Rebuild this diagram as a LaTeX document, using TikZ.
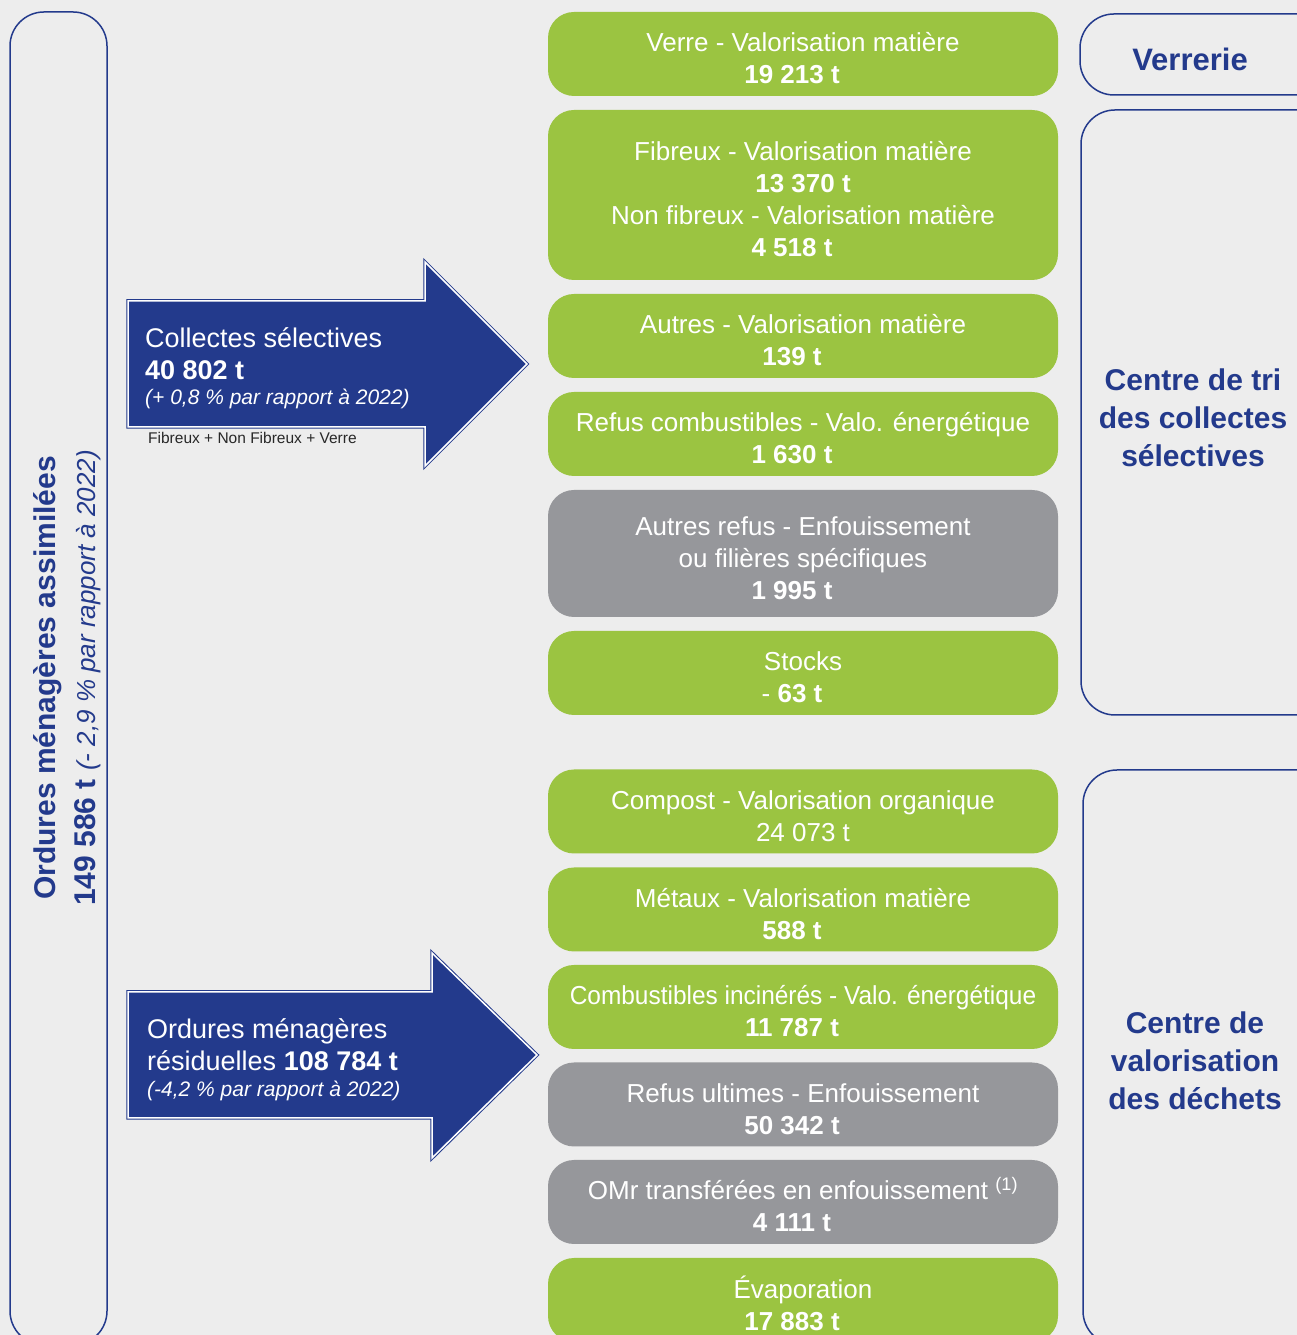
\documentclass[tikz,border=0pt]{standalone}
\usepackage{fontspec}
\usepackage{graphicx}
\setmainfont{Liberation Sans}
\newcommand{\tonnes}[1]{#1\hspace*{22pt}}
\begin{document}
\begin{tikzpicture}[x=1pt,y=1pt]
\definecolor{fondColor}{RGB}{237,237,237}
\definecolor{vertColor}{RGB}{155,196,65}
\definecolor{grisColor}{RGB}{150,151,155}
\definecolor{bleuColor}{RGB}{35,58,140}
\definecolor{noteColor}{RGB}{40,40,40}
\tikzset{
  flux/.style={rounded corners=26pt, minimum width=510pt, minimum height=84pt, inner sep=0pt,
    text=white, align=center, font=\fontsize{26}{32}\selectfont, text height=60pt, text depth=0pt},
  valo/.style={flux, fill=vertColor},
  refus/.style={flux, fill=grisColor},
  cadre/.style={draw=bleuColor, line width=1.5pt, rounded corners=34pt},
  centre/.style={text=bleuColor, align=center, anchor=base, inner sep=0pt, font=\bfseries\fontsize{30}{38}\selectfont},
  fleche/.style={draw=bleuColor, fill=bleuColor, line width=1pt, double=white, double distance=1.5pt, line join=miter},
  legende/.style={text=white, align=left, anchor=base west, inner sep=0pt, font=\fontsize{27}{32}\selectfont}
}
\path[use as bounding box,fill=fondColor] (0,0) rectangle (1297,1335);
\begin{scope}
\path[clip] (0,0) rectangle (1297,1335);

\path[cadre] (10,-10) rectangle (107,1323);
\path[cadre] (1080,1240) rectangle (1340,1321);
\path[cadre] (1081,620) rectangle (1340,1225);
\path[cadre] (1083,-10) rectangle (1340,565);

\path[fleche] (128,1034) -- (425,1034) -- (425,1073) -- (527,971) -- (425,869) -- (425,908) -- (128,908) -- cycle;
\path[fleche] (128,343) -- (432,343) -- (432,382) -- (537,280) -- (432,177) -- (432,217) -- (128,217) -- cycle;

\node[valo] (verre) at (803,1281) {Verre - Valorisation matière\\\tonnes{\textbf{19 213 t}}};
\node[valo, minimum height=170pt, text height=124pt] (fibreux) at (803,1140)
  {Fibreux - Valorisation matière\\\tonnes{\textbf{13 370 t}}\\Non fibreux - Valorisation matière\\\tonnes{\textbf{4 518 t}}};
\node[valo] (autres) at (803,999) {Autres - Valorisation matière\\\tonnes{\textbf{139 t}}};
\node[valo] (refusComb) at (803,901) {Refus combustibles - Valo. énergétique\\\tonnes{\textbf{1 630 t}}};
\node[refus, minimum height=127pt, text height=93pt] (autresRefus) at (803,781.5)
  {Autres refus - Enfouissement\\ou filières spécifiques\\\tonnes{\textbf{1 995 t}}};
\node[valo] (stocks) at (803,662) {Stocks\\\tonnes{- \textbf{63 t}}};

\node[valo] (compost) at (803,523.5) {Compost - Valorisation organique\\24 073 t};
\node[valo] (metaux) at (803,425.5) {Métaux - Valorisation matière\\\tonnes{\textbf{588 t}}};
\node[valo] (combust) at (803,328) {\scalebox{0.94}[1]{Combustibles incinérés - Valo. énergétique}\\\tonnes{\textbf{11 787 t}}};
\node[refus] (refusUlt) at (803,230.5) {Refus ultimes - Enfouissement\\\tonnes{\textbf{50 342 t}}};
\node[refus] (omr) at (803,133) {OMr transférées en enfouissement \textsuperscript{(1)}\\\tonnes{\textbf{4 111 t}}};
\node[valo] (evap) at (803,35) {Évaporation\\\tonnes{\textbf{17 883 t}}};

\node[legende] (collectes) at (145,930)
  {Collectes sélectives\\\textbf{40 802 t}\\[-7pt]{\fontsize{21}{25}\selectfont\itshape (+ 0,8 \% par rapport à 2022)}};
\node[text=noteColor, anchor=base west, inner sep=0pt, font=\fontsize{15.5}{18}\selectfont] (detail) at (148,891)
  {Fibreux + Non Fibreux + Verre};
\node[legende] (residuelles) at (147,238)
  {Ordures ménagères\\résiduelles \textbf{108 784 t}\\[-6pt]{\fontsize{21}{25}\selectfont\itshape (-4,2 \% par rapport à 2022)}};

\node[rotate=90, anchor=base, align=center, inner sep=0pt, text=bleuColor, font=\bfseries\fontsize{30}{40}\selectfont] (assimilees) at (95,657)
  {Ordures ménagères assimilées\\149 586 t {\mdseries\itshape\fontsize{26}{40}\selectfont (- 2,9 \% par rapport à 2022)}};

\node[centre, font=\bfseries\fontsize{31}{38}\selectfont] (verrerie) at (1190,1264) {Verrerie};
\node[centre] (centreTri) at (1193,868) {Centre de tri\\des collectes\\sélectives};
\node[centre] (centreValo) at (1195,225) {Centre de\\valorisation\\des déchets};
\end{scope}
\end{tikzpicture}
\end{document}
